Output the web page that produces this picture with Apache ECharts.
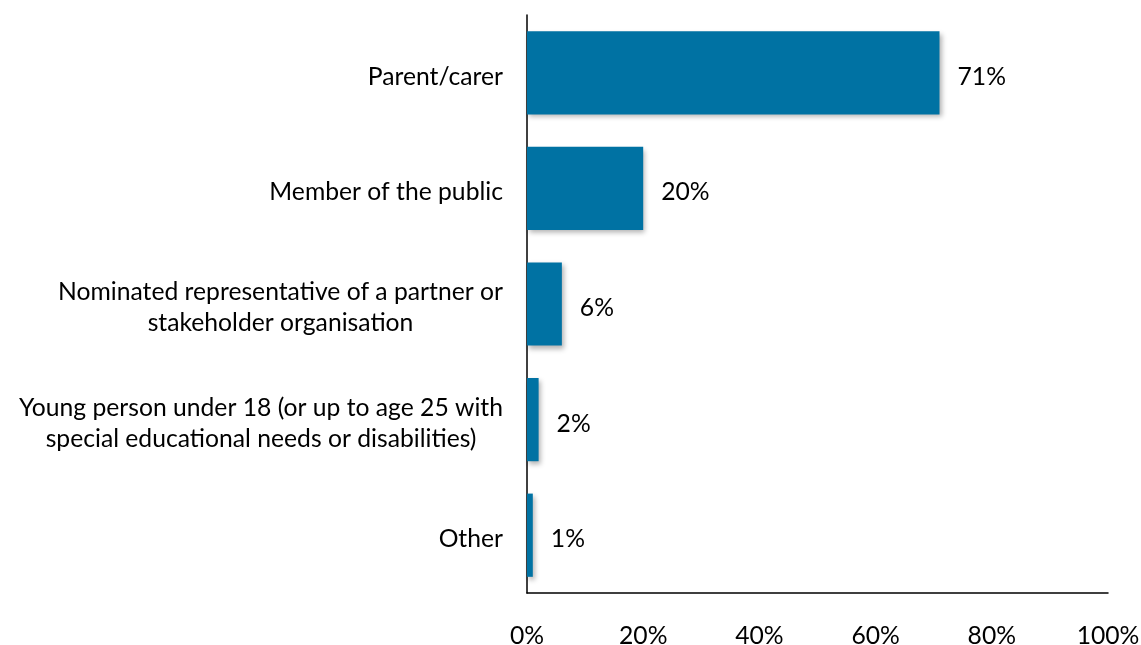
<!DOCTYPE html>
<html>
<head>
<meta charset="utf-8">
<script src="https://cdn.jsdelivr.net/npm/echarts@6/dist/echarts.min.js"></script>
<style>
  html, body { margin: 0; padding: 0; background: #fff; }
  #chart { width: 1141px; height: 645px; }
</style>
</head>
<body>
<div id="chart"></div>
<script>
// Respondent types, top to bottom
const categories = [
  'Parent/carer',
  'Member of the public',
  'Nominated representative of a partner or\nstakeholder organisation',
  'Young person under 18 (or up to age 25 with\nspecial educational needs or disabilities)',
  'Other'
];
// Share of respondents, percent
const shares = [71, 20, 6, 2, 1];
// Horizontal axis ticks, percent
const xTicks = [0, 20, 40, 60, 80, 100];

const FONT = 'Lato';
const FS = 24.7;
const LH = 31;
const BAR = '#0072A3';

const chart = echarts.init(document.getElementById('chart'), null, { renderer: 'canvas' });

chart.setOption({
  animation: false,
  grid: {
    left: 527, right: 33, top: 15, bottom: 52,
    containLabel: false,
    outerBoundsMode: 'none'
  },
  xAxis: {
    type: 'value',
    min: xTicks[0],
    max: xTicks[xTicks.length - 1],
    interval: xTicks[1] - xTicks[0],
    axisLine: { show: true, lineStyle: { color: '#000', width: 1.5 } },
    axisTick: { show: false },
    splitLine: { show: false },
    axisLabel: {
      margin: 31,
      color: '#000',
      fontFamily: FONT,
      fontSize: FS,
      formatter: v => v + '%'
    }
  },
  yAxis: {
    type: 'category',
    inverse: true,
    data: categories,
    axisLine: { show: true, lineStyle: { color: '#000', width: 1.5 } },
    axisTick: { show: false },
    axisLabel: {
      margin: 24,
      color: '#000',
      fontFamily: FONT,
      fontSize: FS,
      lineHeight: LH,
      padding: [8, 0, 0, 0],
      formatter: v => v.split('\n').map(s => '{c|' + s + '}').join('\n'),
      rich: {
        c: { align: 'center', fontFamily: FONT, fontSize: FS, color: '#000', lineHeight: LH }
      }
    }
  },
  series: [{
    type: 'bar',
    data: shares,
    barCategoryGap: '28%',
    itemStyle: {
      color: BAR,
      shadowBlur: 5,
      shadowOffsetX: 2,
      shadowOffsetY: 3,
      shadowColor: 'rgba(0,0,0,0.3)'
    },
    label: {
      show: true,
      position: 'right',
      distance: 18,
      offset: [0, 4],
      color: '#000',
      fontFamily: FONT,
      fontSize: FS,
      formatter: p => p.value + '%'
    }
  }]
});
</script>
</body>
</html>
